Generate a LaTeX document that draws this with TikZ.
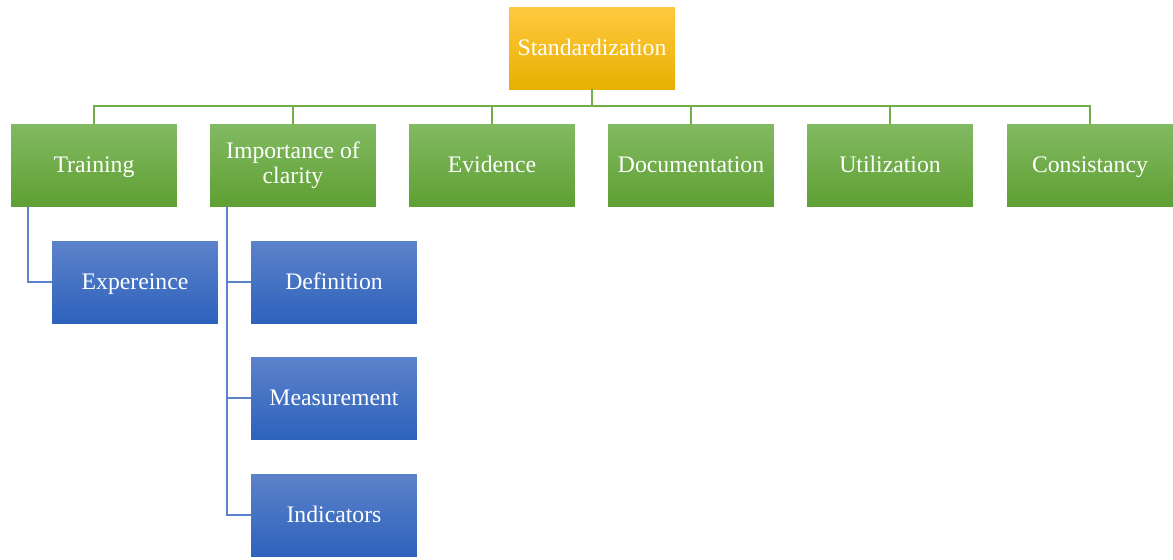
\documentclass[tikz,border=0pt]{standalone}
\usepackage{fontspec}
\setmainfont{Liberation Serif}
\usetikzlibrary{positioning}

\definecolor{goldtop}{HTML}{FFC940}
\definecolor{goldbot}{HTML}{E8B000}
\definecolor{leaftop}{HTML}{82BA62}
\definecolor{leafbot}{HTML}{5EA032}
\definecolor{seatop}{HTML}{5C82CA}
\definecolor{seabot}{HTML}{2E62BC}
\definecolor{leafline}{HTML}{70AD47}
\definecolor{sealine}{HTML}{5B82CC}

% fixed line height so every label sits at the same level
\newcommand{\boxstrut}{\rule[-0.15em]{0pt}{0.96em}}

\tikzset{
  box/.style={rectangle,minimum width=3.32cm,minimum height=1.64cm,inner sep=2pt,
    align=center,text=white,font=\fontsize{13.5}{14}\selectfont,
    execute at begin node=\boxstrut},
  rootbox/.style={box,top color=goldtop,bottom color=goldbot},
  topicbox/.style={box,top color=leaftop,bottom color=leafbot},
  subbox/.style={box,top color=seatop,bottom color=seabot},
  treeline/.style={draw=leafline,line width=1pt},
  subline/.style={draw=sealine,line width=1pt}
}

\begin{document}
\begin{tikzpicture}[x=0.02cm,y=-0.02cm]
\useasboundingbox (0,0) rectangle (1173,559);

% top of the tree
\node[rootbox] (std) at (592,48) {Standardization};

% second level
\node[topicbox] (train) at (94,165) {Training};
\node[topicbox] (clar) at (293,165) {Importance of\\clarity};
\node[topicbox] (evid) at (492,165) {Evidence};
\node[topicbox] (docu) at (691,165) {Documentation};
\node[topicbox] (util) at (890,165) {Utilization};
\node[topicbox] (cons) at (1090,165) {Consistancy};

% third level
\node[subbox] (exp) at (135,282) {Expereince};
\node[subbox] (defn) at (334,282) {Definition};
\node[subbox] (meas) at (334,398) {Measurement};
\node[subbox] (indi) at (334,515) {Indicators};

% green bus from the root
\foreach \n in {train,clar,evid,docu,util,cons}
  \draw[treeline] (std.south) -- ++(0,17) -| (\n.north);

% blue side lines
\draw[subline] ([xshift=0.34cm]train.south west) |- (exp.west);
\foreach \n in {defn,meas,indi}
  \draw[subline] ([xshift=0.34cm]clar.south west) |- (\n.west);

\end{tikzpicture}
\end{document}
